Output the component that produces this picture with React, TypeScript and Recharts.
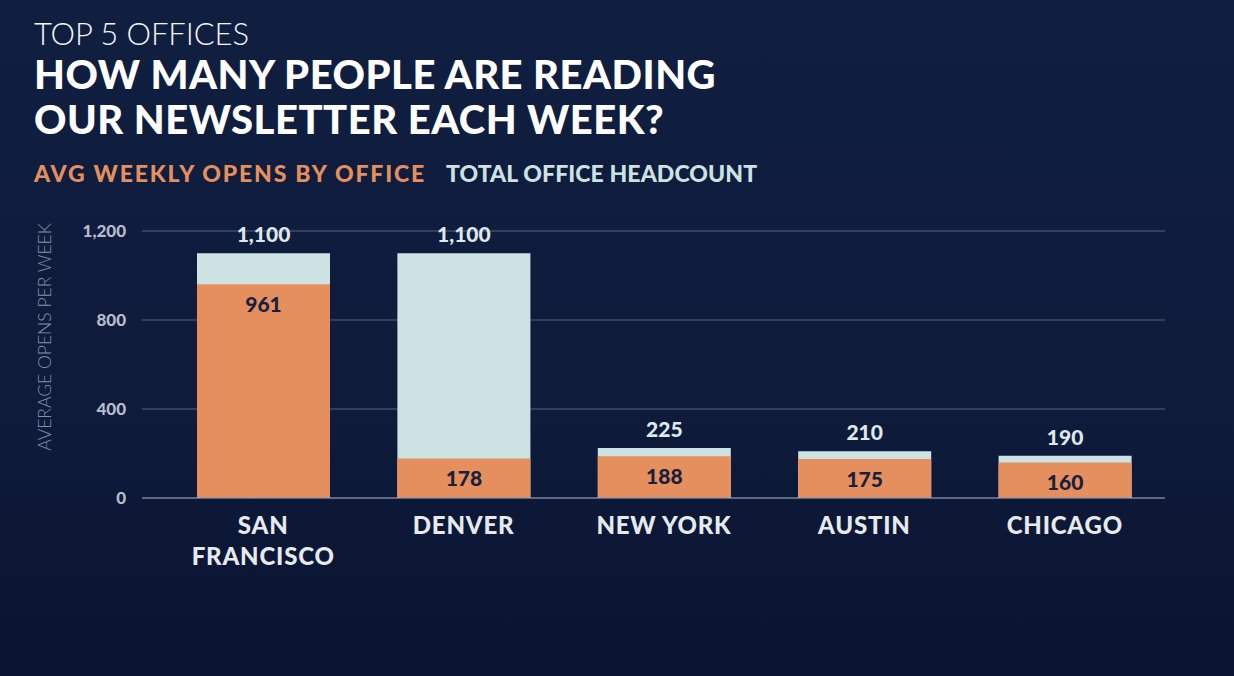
import { BarChart, Bar, XAxis, YAxis, CartesianGrid, LabelList } from 'recharts'

const offices = ['SAN FRANCISCO', 'DENVER', 'NEW YORK', 'AUSTIN', 'CHICAGO']
const headcount = [1100, 1100, 225, 210, 190]
const weeklyOpens = [961, 178, 188, 175, 160]
const yTicks = [0, 400, 800, 1200]

const chartData = offices.map((office, i) => ({
  office,
  headcount: headcount[i],
  opens: weeklyOpens[i]
}))

const ORANGE = '#e68f5e'
const PALE = '#cde3e3'
const NAVY_TEXT = '#17203d'
const FONT = 'Lato, "Open Sans", sans-serif'

const fmt = (v: number | string) => Number(v).toLocaleString('en-US')

interface TickProps {
  x?: number
  y?: number
  payload?: { value: string }
}

function OfficeTick({ x = 0, y = 0, payload }: TickProps) {
  const value = payload?.value ?? ''
  // only "SAN FRANCISCO" wraps in the original
  const lines = value === 'SAN FRANCISCO' ? value.split(' ') : [value]
  return (
    <text
      x={x}
      y={y}
      textAnchor="middle"
      fill="#e6eaee"
      fontFamily={FONT}
      fontWeight={900}
      fontSize={24}
      letterSpacing={0.8}
    >
      {lines.map((line, i) => (
        <tspan key={line} x={x} dy={i === 0 ? 34 : 31}>
          {line}
        </tspan>
      ))}
    </text>
  )
}

export default function App() {
  return (
    <div
      style={{
        position: 'absolute',
        left: 0,
        top: 0,
        width: 1234,
        height: 676,
        overflow: 'hidden',
        background: 'linear-gradient(180deg, #101e40 0%, #0e1b3b 60%, #0a1430 100%)',
        fontFamily: FONT
      }}
    >
      <div style={{ position: 'absolute', left: 34, top: 14, color: '#f2f4f7', fontSize: 31, fontWeight: 300, letterSpacing: -0.1 }}>
        TOP 5 OFFICES
      </div>
      <div
        style={{
          position: 'absolute',
          left: 34,
          top: 52,
          color: '#ffffff',
          fontSize: 40,
          fontWeight: 900,
          lineHeight: '45px',
          letterSpacing: 0.5
        }}
      >
        HOW MANY PEOPLE ARE READING
        <br />
        OUR NEWSLETTER EACH WEEK?
      </div>
      <div style={{ position: 'absolute', left: 34, top: 159, fontSize: 23, fontWeight: 900, whiteSpace: 'nowrap' }}>
        <span style={{ color: ORANGE, letterSpacing: 1.8 }}>AVG WEEKLY OPENS BY OFFICE</span>
        <span style={{ color: PALE, marginLeft: 20, letterSpacing: 0.1 }}>TOTAL OFFICE HEADCOUNT</span>
      </div>
      <div
        style={{
          position: 'absolute',
          left: 44,
          top: 337,
          transform: 'translate(-50%, -50%) rotate(-90deg)',
          color: '#8790a6',
          fontSize: 17.5,
          fontWeight: 300,
          whiteSpace: 'nowrap'
        }}
      >
        AVERAGE OPENS PER WEEK
      </div>

      <div style={{ position: 'absolute', left: 0, top: 0 }}>
        <BarChart
          width={1234}
          height={676}
          data={chartData}
          margin={{ top: 231, right: 69, bottom: 98, left: 62 }}
        >
          <CartesianGrid vertical={false} stroke="#56627d" strokeWidth={1} />
          <XAxis
            xAxisId="back"
            dataKey="office"
            height={80}
            padding={{ left: 21, right: 0 }}
            axisLine={{ stroke: '#8a94ab' }}
            tickLine={false}
            tickSize={0}
            interval={0}
            tick={<OfficeTick />}
          />
          <XAxis xAxisId="front" dataKey="office" hide padding={{ left: 21, right: 0 }} />
          <YAxis
            width={80}
            domain={[0, 1200]}
            ticks={yTicks}
            axisLine={false}
            tickLine={false}
            tickSize={0}
            tickMargin={16}
            tickFormatter={fmt}
            tick={{ fill: '#b6bccb', fontSize: 17, fontWeight: 900, fontFamily: FONT }}
          />
          <Bar xAxisId="back" dataKey="headcount" fill={PALE} barSize={133} isAnimationActive={false}>
            <LabelList
              dataKey="headcount"
              position="top"
              offset={11}
              formatter={fmt}
              fill="#dfe8ec"
              fontSize={21}
              fontWeight={900}
              fontFamily={FONT}
            />
          </Bar>
          <Bar xAxisId="front" dataKey="opens" fill={ORANGE} barSize={133} isAnimationActive={false}>
            <LabelList
              dataKey="opens"
              position="insideTop"
              offset={13}
              formatter={fmt}
              fill={NAVY_TEXT}
              fontSize={21}
              fontWeight={900}
              fontFamily={FONT}
            />
          </Bar>
        </BarChart>
      </div>
    </div>
  )
}
